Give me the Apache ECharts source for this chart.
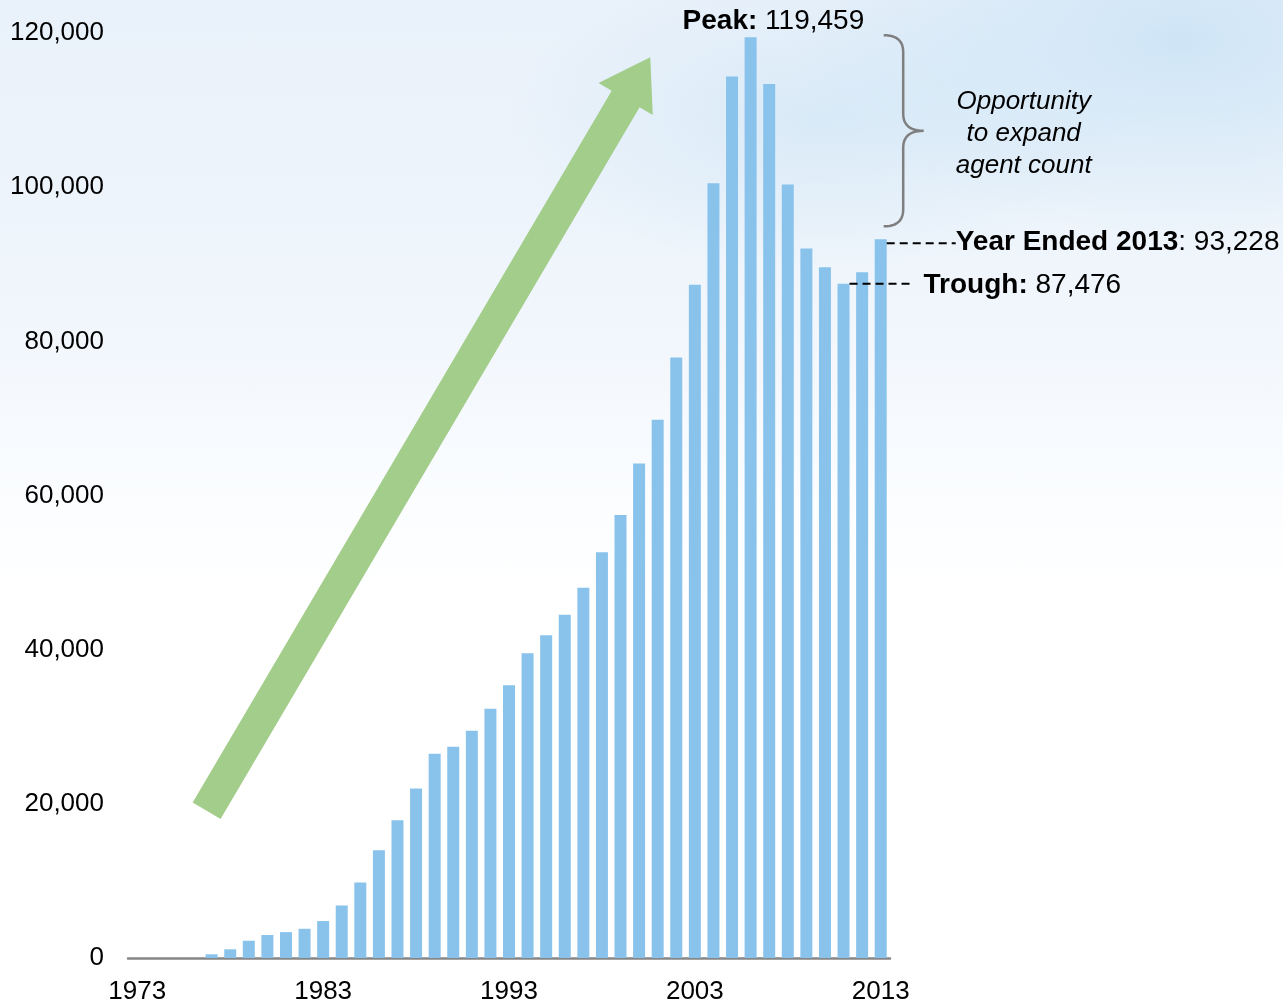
<!DOCTYPE html>
<html>
<head>
<meta charset="utf-8">
<script src="https://cdn.jsdelivr.net/npm/echarts@6/dist/echarts.min.js"></script>
<style>
  html, body { margin: 0; padding: 0; width: 1283px; height: 1005px; overflow: hidden; background: #fff; }
  #chart {
    width: 1283px; height: 1005px;
    background:
      radial-gradient(ellipse 520px 260px at 1180px 40px, rgba(200, 226, 245, 0.8), rgba(200, 226, 245, 0) 75%),
      radial-gradient(ellipse 420px 200px at 820px 120px, rgba(205, 228, 245, 0.6), rgba(205, 228, 245, 0) 75%),
      linear-gradient(to bottom, #e9f1fa 0px, #edf4fb 220px, #f4f8fd 380px, #fbfdff 500px, #ffffff 600px, #ffffff 100%);
  }
</style>
</head>
<body>
<div id="chart"></div>
<script>
// Agent count by year
const years = [
  '1973','1974','1975','1976','1977','1978','1979','1980','1981','1982',
  '1983','1984','1985','1986','1987','1988','1989','1990','1991','1992',
  '1993','1994','1995','1996','1997','1998','1999','2000','2001','2002',
  '2003','2004','2005','2006','2007','2008','2009','2010','2011','2012','2013'
];
const agents = [
  null, null, null, null, 480, 1130, 2240, 2980, 3360, 3790,
  4790, 6810, 9790, 13970, 17880, 21990, 26510, 27420, 29490, 32330,
  35390, 39530, 41860, 44530, 48020, 52630, 57460, 64140, 69830, 77890,
  87330, 100520, 114360, 119459, 113370, 100350, 92030, 89620, 87476, 88970, 93228
];
const xLabelYears = ['1973', '1983', '1993', '2003', '2013'];
const yMax = 120000;
const yStep = 20000;

// Annotated years
const peakYear = '2006';
const troughYear = '2011';
const lastYear = '2013';
const noteLines = ['Opportunity', 'to expand', 'agent count'];

// Growth arrow, as [category position, value]
const trendFrom = [3.73, 19100];
const trendTo = [27.6, 116860];

const FONT = '"Liberation Sans", Arial, Helvetica, sans-serif';
const fmt = v => Number(v).toLocaleString('en-US');

const chart = echarts.init(document.getElementById('chart'), null, { renderer: 'canvas' });

chart.setOption({
  backgroundColor: 'transparent',
  animation: false,
  grid: { left: 128, right: 393, top: 33, bottom: 44 },
  xAxis: {
    type: 'category',
    data: years,
    boundaryGap: true,
    axisLine: { show: true, lineStyle: { color: '#868686', width: 2.5 } },
    axisTick: { show: false },
    axisLabel: {
      interval: (i, v) => xLabelYears.includes(v),
      color: '#000',
      fontFamily: FONT,
      fontSize: 26,
      margin: 21
    },
    splitLine: { show: false }
  },
  yAxis: {
    type: 'value',
    min: 0,
    max: yMax,
    interval: yStep,
    axisLine: { show: false },
    axisTick: { show: false },
    splitLine: { show: false },
    axisLabel: {
      formatter: v => fmt(v),
      color: '#000',
      fontFamily: FONT,
      fontSize: 26,
      margin: 24,
      padding: [0, 0, 4, 0]
    }
  },
  series: [{
    type: 'bar',
    data: agents,
    barWidth: 12,
    silent: true,
    itemStyle: { color: '#89c3ec' }
  }]
});

// Pixel helpers driven by the chart's own axes
const n = years.length;
const pA = chart.convertToPixel({ gridIndex: 0 }, [0, 0]);
const pB = chart.convertToPixel({ gridIndex: 0 }, [n - 1, yMax]);
const xAt = f => pA[0] + (pB[0] - pA[0]) * f / (n - 1);
const yAt = v => pA[1] + (pB[1] - pA[1]) * v / yMax;

const iPeak = years.indexOf(peakYear);
const iTrough = years.indexOf(troughYear);
const iLast = years.indexOf(lastYear);
const vPeak = agents[iPeak];
const vTrough = agents[iTrough];
const vLast = agents[iLast];

// Growth arrow polygon
function arrowPoints() {
  const T = [xAt(trendFrom[0]), yAt(trendFrom[1])];
  const P = [xAt(trendTo[0]), yAt(trendTo[1])];
  const len = Math.hypot(P[0] - T[0], P[1] - T[1]);
  const d = [(P[0] - T[0]) / len, (P[1] - T[1]) / len];
  const nv = [-d[1], d[0]];
  const headLen = 48.5, shaftHalf = 16.2, headHalf = 31.5;
  const B = [P[0] - d[0] * headLen, P[1] - d[1] * headLen];
  const off = (p, k) => [p[0] + nv[0] * k, p[1] + nv[1] * k];
  return [off(T, -shaftHalf), off(B, -shaftHalf), off(B, -headHalf), P,
          off(B, headHalf), off(B, shaftHalf), off(T, shaftHalf)];
}

// Curly brace sampled from quadratic segments
function bracePoints() {
  const x0 = xAt(iLast) + 3;
  const top = yAt(vPeak) - 2;
  const bot = yAt(vLast) - 13;
  const mid = (top + bot) / 2;
  const xv = x0 + 19.5;
  const xt = x0 + 40;
  const pts = [];
  const quad = (a, c, b) => {
    for (let k = 0; k <= 12; k++) {
      const t = k / 12, u = 1 - t;
      pts.push([u * u * a[0] + 2 * u * t * c[0] + t * t * b[0],
                u * u * a[1] + 2 * u * t * c[1] + t * t * b[1]]);
    }
  };
  quad([x0, top], [xv, top], [xv, top + 17]);
  quad([xv, mid - 17], [xv, mid], [xt, mid]);
  quad([xt, mid], [xv, mid], [xv, mid + 17]);
  quad([xv, bot - 17], [xv, bot], [x0, bot]);
  return { pts, x0, mid };
}

const brace = bracePoints();
const NOTE_SIZE = 28;
const textBase = { fontFamily: FONT, fontSize: NOTE_SIZE, fill: '#000' };
const boldRich = { b: { fontWeight: 'bold', fontFamily: FONT, fontSize: NOTE_SIZE } };

chart.setOption({
  graphic: [
    {
      type: 'polygon', z: 5, silent: true,
      shape: { points: arrowPoints() },
      style: { fill: '#a3cd8a' }
    },
    {
      type: 'polyline', z: 5, silent: true,
      shape: { points: brace.pts },
      style: { stroke: '#7f7f7f', lineWidth: 2.5, fill: null }
    },
    {
      type: 'line', z: 6, silent: true,
      shape: { x1: xAt(iLast) + 6, y1: yAt(vLast) + 4, x2: xAt(iLast) + 75, y2: yAt(vLast) + 4 },
      style: { stroke: '#000', lineWidth: 2, lineDash: [8, 5] }
    },
    {
      type: 'line', z: 6, silent: true,
      shape: { x1: xAt(iTrough) + 6, y1: yAt(vTrough), x2: xAt(iTrough) + 68, y2: yAt(vTrough) },
      style: { stroke: '#000', lineWidth: 2, lineDash: [8, 5] }
    },
    {
      type: 'text', z: 7, silent: true,
      x: xAt(iPeak) - 68, y: yAt(vPeak) - 16,
      style: Object.assign({}, textBase, {
        text: '{b|Peak:} ' + fmt(vPeak),
        textAlign: 'left', textVerticalAlign: 'middle',
        rich: boldRich
      })
    },
    {
      type: 'text', z: 7, silent: true,
      x: xAt(iLast) + 75, y: yAt(vLast) + 3,
      style: Object.assign({}, textBase, {
        text: '{b|Year Ended ' + lastYear + '}: ' + fmt(vLast),
        textAlign: 'left', textVerticalAlign: 'middle',
        rich: boldRich
      })
    },
    {
      type: 'text', z: 7, silent: true,
      x: xAt(iTrough) + 80, y: yAt(vTrough) + 1.5,
      style: Object.assign({}, textBase, {
        text: '{b|Trough:} ' + fmt(vTrough),
        textAlign: 'left', textVerticalAlign: 'middle',
        rich: boldRich
      })
    },
    {
      type: 'text', z: 7, silent: true,
      x: brace.x0 + 140, y: brace.mid + 3,
      style: Object.assign({}, textBase, {
        text: noteLines.join('\n'),
        fontSize: 26,
        fontStyle: 'italic',
        lineHeight: 32,
        textAlign: 'center', textVerticalAlign: 'middle'
      })
    }
  ]
});
</script>
</body>
</html>
